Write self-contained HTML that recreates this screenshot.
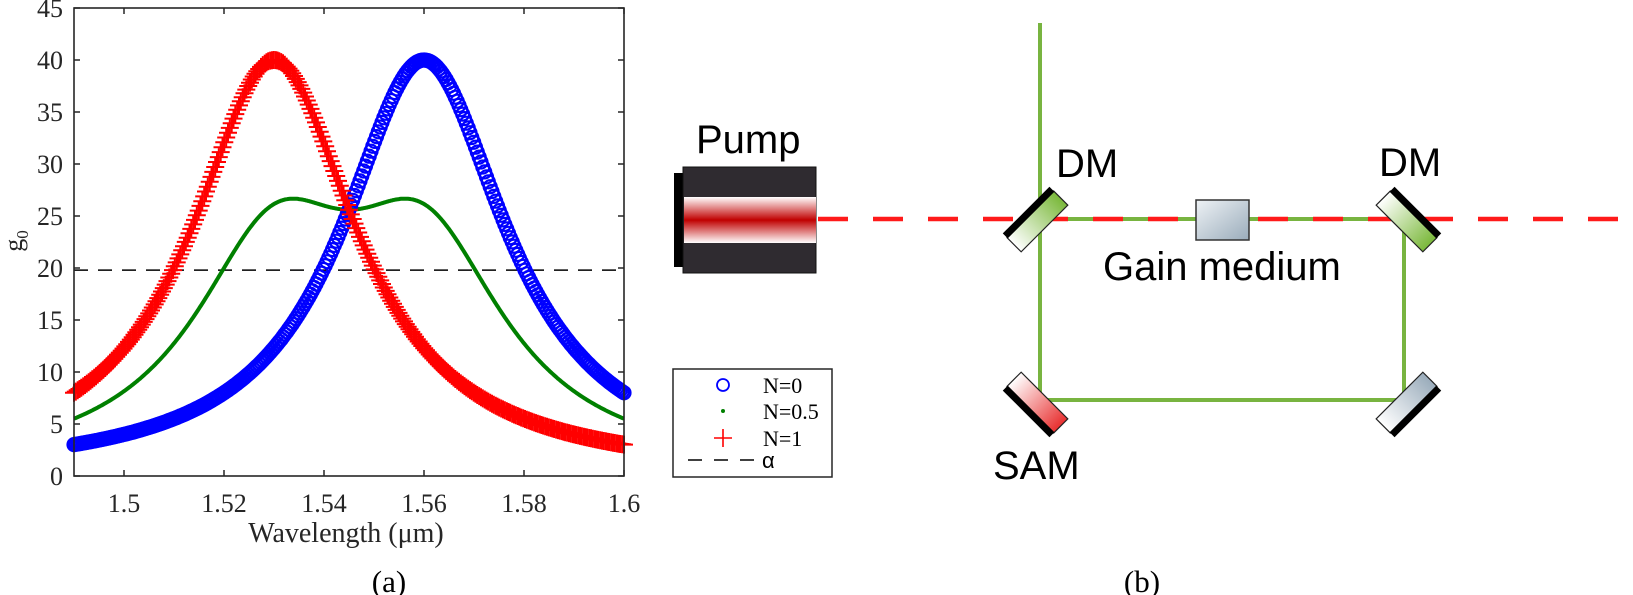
<!DOCTYPE html>
<html><head><meta charset="utf-8"><style>
html,body{margin:0;padding:0;background:#fff;}
svg{display:block;}
</style></head><body>
<svg id="s" width="1633" height="595" viewBox="0 0 1633 595" xmlns="http://www.w3.org/2000/svg">
<defs>
<linearGradient id="redband" x1="0" y1="0" x2="0" y2="1">
<stop offset="0" stop-color="#fff"/><stop offset="0.5" stop-color="#c00000"/><stop offset="1" stop-color="#fff"/></linearGradient>
<linearGradient id="gm" x1="0" y1="0" x2="1" y2="1">
<stop offset="0" stop-color="#eef2f5"/><stop offset="1" stop-color="#9aacbb"/></linearGradient>
<linearGradient id="gg" x1="0" y1="0" x2="1" y2="0">
<stop offset="0" stop-color="#ffffff"/><stop offset="1" stop-color="#7ab83a"/></linearGradient>
<linearGradient id="rg" x1="0" y1="0" x2="1" y2="0">
<stop offset="0" stop-color="#ffffff"/><stop offset="1" stop-color="#e83030"/></linearGradient>
<linearGradient id="bg" x1="0" y1="0" x2="1" y2="0">
<stop offset="0" stop-color="#ffffff"/><stop offset="1" stop-color="#9aacbb"/></linearGradient>
</defs>
<g id="plot"></g>
<g font-family="Liberation Serif, serif" font-size="26" fill="#262626">
<g text-anchor="end" id="yl"></g>
<g text-anchor="middle" id="xl"></g>
<text x="346" y="542" text-anchor="middle" font-size="28">Wavelength (μm)</text>
<text x="389" y="592" text-anchor="middle" font-size="31" fill="#000">(a)</text>
<text transform="translate(22,241) rotate(-90)" text-anchor="middle">g<tspan font-size="17" dy="6">0</tspan></text>
</g>
<!-- legend -->
<rect x="673" y="369" width="159" height="108" fill="#fff" stroke="#262626" stroke-width="1.5"/>
<circle cx="723" cy="385" r="6" fill="none" stroke="#0000ff" stroke-width="1.8"/>
<circle cx="723" cy="411" r="2" fill="#008000"/>
<path d="M714 438h18M723 429v18" stroke="#ff0000" stroke-width="1.6"/>
<path d="M688 460h14M714 460h14M740 460h14" stroke="#000" stroke-width="1.6"/>
<g font-family="Liberation Serif, serif" font-size="22" fill="#000">
<text x="763" y="393">N=0</text><text x="763" y="419">N=0.5</text><text x="763" y="446">N=1</text>
<text x="762" y="468" font-family="Liberation Sans, sans-serif">α</text>
</g>
<!-- diagram b -->
<g stroke="#78b440" stroke-width="4" fill="none">
<path d="M1040 23V400H1404V219H1040"/>
</g>
<line x1="818" y1="219" x2="1633" y2="219" stroke="#ff1a1a" stroke-width="4.5" stroke-dasharray="30 25"/>
<rect x="1196" y="200" width="53" height="40" fill="url(#gm)" stroke="#333" stroke-width="1.5"/>
<!-- pump -->
<rect x="674" y="173" width="10" height="94" fill="#000"/>
<rect x="683" y="167" width="133" height="106" fill="#2f2b30" stroke="#111" stroke-width="1"/>
<rect x="684" y="197" width="132" height="46" fill="url(#redband)"/>
<!-- mirrors -->
<g transform="translate(1036,220) rotate(-45)"><rect x="-33" y="-8" width="66" height="20" fill="url(#gg)" stroke="#222" stroke-width="1.2"/><rect x="-33" y="-14" width="66" height="7" fill="#000"/></g>
<g transform="translate(1408,220) rotate(45)"><rect x="-33" y="-8" width="66" height="20" fill="url(#gg)" stroke="#222" stroke-width="1.2"/><rect x="-33" y="-14" width="66" height="7" fill="#000"/></g>
<g transform="translate(1036,404) rotate(45)"><rect x="-33" y="-12" width="66" height="20" fill="url(#rg)" stroke="#222" stroke-width="1.2"/><rect x="-33" y="7" width="66" height="7" fill="#000"/></g>
<g transform="translate(1408,404) rotate(-45)"><rect x="-33" y="-12" width="66" height="20" fill="url(#bg)" stroke="#222" stroke-width="1.2"/><rect x="-33" y="7" width="66" height="7" fill="#000"/></g>
<g font-family="Liberation Sans, sans-serif" font-size="40" fill="#000">
<text x="696" y="153">Pump</text>
<text x="1056" y="177">DM</text>
<text x="1379" y="176">DM</text>
<text x="1103" y="280">Gain medium</text>
<text x="993" y="479">SAM</text>
</g>
<text x="1142" y="592" text-anchor="middle" font-family="Liberation Serif, serif" font-size="31">(b)</text>
</svg>
<script>
(function(){
var L=74,R=624,T=8,B=476;
function X(l){return L+(l-1.49)*5000;}
function Y(g){return B-g*10.4;}
function lor(l,c){var d=(l-c)/0.02;return 40/(1+d*d);}
var p=document.getElementById('plot'),h='';
h+='<line x1="'+L+'" y1="'+Y(19.8)+'" x2="'+R+'" y2="'+Y(19.8)+'" stroke="#000" stroke-width="1.5" stroke-dasharray="14 10"/>';
var d='';for(var i=0;i<=550;i++){var l=1.49+i*0.11/550;var g=(lor(l,1.53)+lor(l,1.56))/2;d+=(i?'L':'M')+X(l).toFixed(1)+' '+Y(g).toFixed(1);}
h+='<path d="'+d+'" fill="none" stroke="#008000" stroke-width="4"/>';
var n=300;
for(var i=0;i<=n;i++){var l=1.49+i*0.11/n;h+='<circle cx="'+X(l).toFixed(1)+'" cy="'+Y(lor(l,1.56)).toFixed(1)+'" r="6.5" fill="none" stroke="#0000ff" stroke-width="2.2"/>';}
for(var i=0;i<=n;i++){var l=1.49+i*0.11/n;var x=X(l),y=Y(lor(l,1.53));h+='<path d="M'+(x-9).toFixed(1)+' '+y.toFixed(1)+'h18M'+x.toFixed(1)+' '+(y-9).toFixed(1)+'v18" stroke="#ff0000" stroke-width="2"/>';}
h+='<rect x="'+L+'" y="'+T+'" width="'+(R-L)+'" height="'+(B-T)+'" fill="none" stroke="#262626" stroke-width="1.6"/>';
var yl='',xl='';
for(var v=0;v<=45;v+=5){var y=Y(v);h+='<path d="M'+L+' '+y+'h6M'+R+' '+y+'h-6" stroke="#262626" stroke-width="1.5"/>';yl+='<text x="63" y="'+(y+9)+'">'+v+'</text>';}
[1.5,1.52,1.54,1.56,1.58,1.6].forEach(function(v){var x=X(v);h+='<path d="M'+x+' '+B+'v-6M'+x+' '+T+'v6" stroke="#262626" stroke-width="1.5"/>';xl+='<text x="'+x+'" y="512">'+v+'</text>';});
p.innerHTML=h;
document.getElementById('yl').innerHTML=yl;
document.getElementById('xl').innerHTML=xl;
})();
</script>
</body></html>
